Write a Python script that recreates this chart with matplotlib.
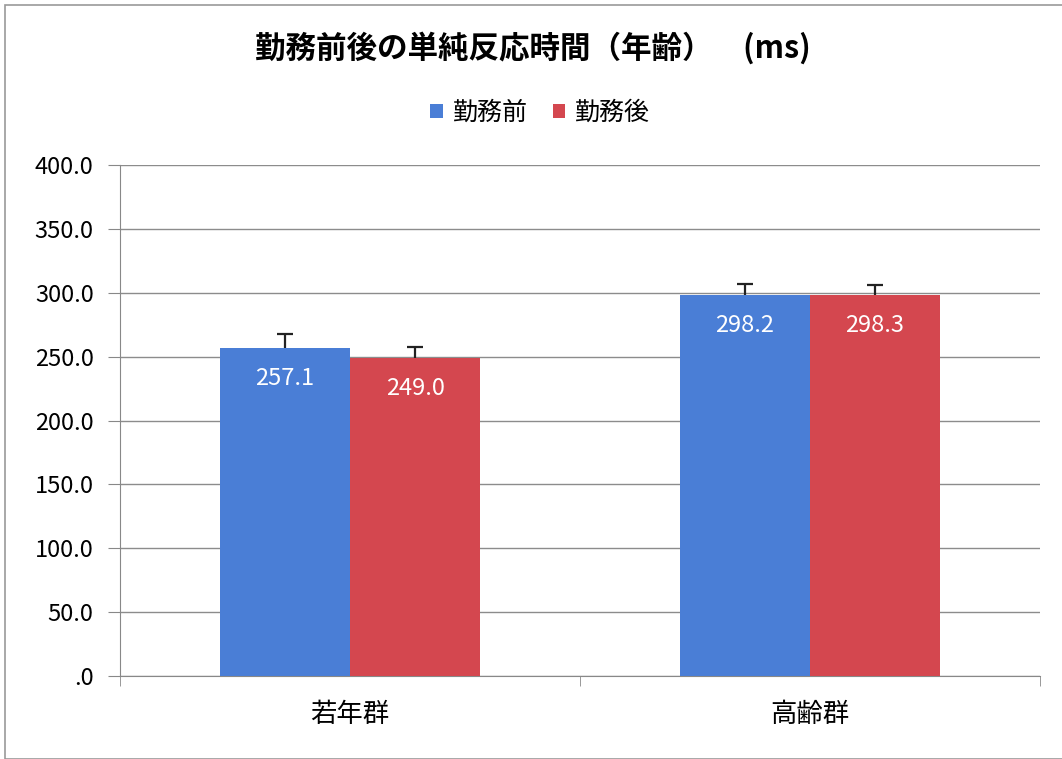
import matplotlib
matplotlib.use('Agg')
from matplotlib import pyplot as plt
from matplotlib.patches import Rectangle
import numpy as np

plt.rcParams['font.family'] = ['Noto Sans CJK JP', 'DejaVu Sans']

categories = ['若年群', '高齢群']
series_names = ['勤務前', '勤務後']
before = [257.1, 298.2]
after = [249.0, 298.3]
before_err = [10.6, 8.6]
after_err = [8.5, 7.7]
yticks = [0, 50, 100, 150, 200, 250, 300, 350, 400]
ytick_labels = ['.0', '50.0', '100.0', '150.0', '200.0', '250.0', '300.0', '350.0', '400.0']

blue = '#4A7ED6'
red = '#D4474F'

fig = plt.figure(figsize=(10.62, 7.59), dpi=100)
ax = fig.add_axes([120 / 1062, 1 - 676 / 759, 920 / 1062, 511 / 759])

x = np.arange(len(categories))
w = 0.283
ekw = dict(ecolor='#222222', elinewidth=1.6, capthick=1.6)
bars1 = ax.bar(x - w / 2, before, w, color=blue, label=series_names[0], zorder=3,
               yerr=[[0, 0], before_err], capsize=6, error_kw=ekw)
bars2 = ax.bar(x + w / 2, after, w, color=red, label=series_names[1], zorder=3,
               yerr=[[0, 0], after_err], capsize=6, error_kw=ekw)
# only the upper cap is shown
for b in (bars1, bars2):
    caps = b.errorbar.lines[1]
    caps[0].set_visible(False)

for bars, vals in [(bars1, before), (bars2, after)]:
    for b, v in zip(bars, vals):
        ax.annotate(f'{v:.1f}', (b.get_x() + b.get_width() / 2, v), xytext=(0, -22),
                    textcoords='offset points', ha='center', va='center',
                    color='white', fontsize=17, zorder=4)

ax.set_xlim(-0.5, 1.5)
ax.set_ylim(0, 400)
ax.set_yticks(yticks)
ax.set_yticklabels(ytick_labels, fontsize=17)
ax.set_xticks(x)
ax.set_xticklabels(categories, fontsize=19)
ax.tick_params(axis='x', length=0, pad=18)
ax.tick_params(axis='y', length=9, color='#888888', pad=10)
ax.set_xticks([-0.5, 0.5, 1.5], minor=True)
ax.tick_params(axis='x', which='minor', length=7, color='#888888', direction='out')
ax.grid(axis='y', color='#8c8c8c', linewidth=1, zorder=0)
for s in ['top', 'right']:
    ax.spines[s].set_visible(False)
ax.spines['left'].set_color('#888888')
ax.spines['bottom'].set_color('#888888')

fig.text(533 / 1062, 1 - 48 / 759, '勤務前後の単純反応時間（年齢）　(ms)', ha='center', va='center',
         fontsize=22, fontweight='bold')
fig.legend(handles=[bars1, bars2], labels=series_names, loc='center', bbox_to_anchor=(540 / 1062, 1 - 113 / 759),
           ncol=2, frameon=False, fontsize=18, handlelength=0.5, handleheight=0.5, handletextpad=0.4,
           columnspacing=1.0)

fig.patches.append(Rectangle((5 / 1062, 0), 1, 1 - 5 / 759, transform=fig.transFigure,
                             fill=False, edgecolor='#999999', linewidth=1.2))

fig.savefig('out.png', dpi=100)
